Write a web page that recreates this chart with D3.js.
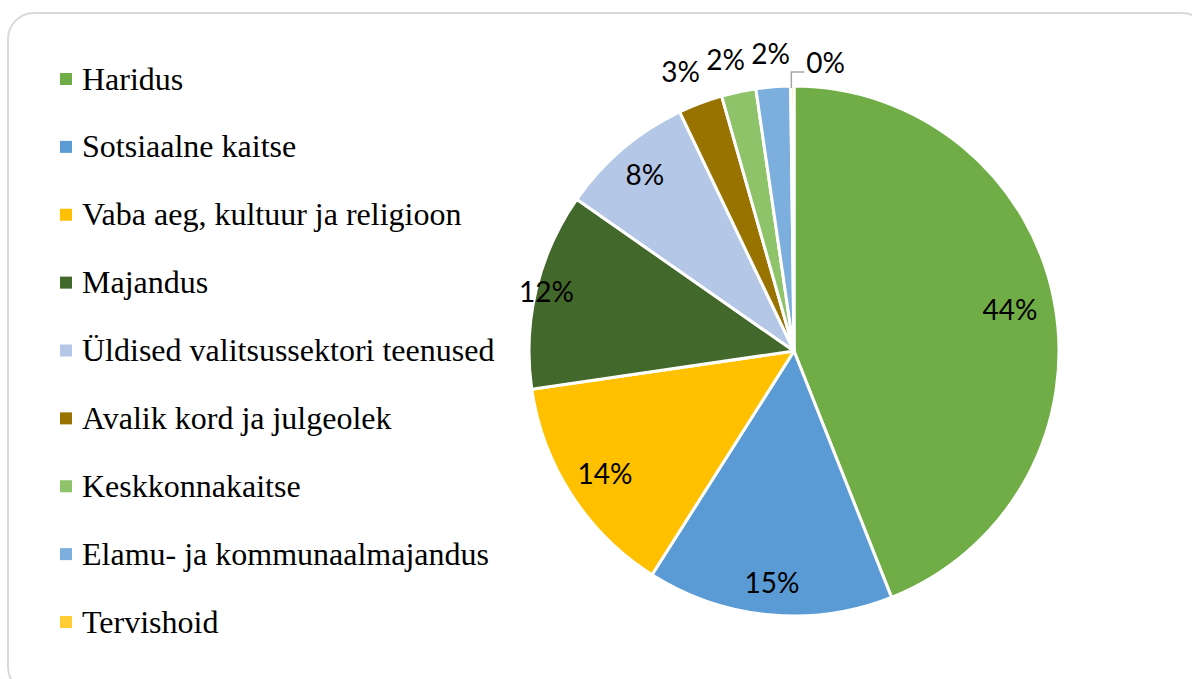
<!DOCTYPE html>
<html>
<head>
<meta charset="utf-8">
<script src="https://cdn.jsdelivr.net/npm/d3@7"></script>
<style>
  body { margin: 0; background: #fff; }
  .legend text { font-family: "Times New Roman", "Liberation Serif", Tinos, serif; font-size: 32px; fill: #000; }
  .lbl { font-family: Lato, "Open Sans", sans-serif; font-size: 28px; fill: #000; }
</style>
</head>
<body>
<script>
// shares of spending (%) in pie order, clockwise from 12 o'clock
var categories = ["Haridus", "Sotsiaalne kaitse", "Vaba aeg, kultuur ja religioon", "Majandus",
                  "Üldised valitsussektori teenused", "Avalik kord ja julgeolek", "Keskkonnakaitse",
                  "Elamu- ja kommunaalmajandus", "Tervishoid"];
var values = [44.0, 15.0, 13.7, 12.0, 8.2, 2.7, 2.1, 2.1, 0.2];
var colors = ["#70ad47", "#5b9bd5", "#ffc000", "#43682b", "#b4c7e7", "#997300", "#8fc36a", "#7cafdd", "#ffcd33"];
// where the inside labels sit, as a fraction of the radius (Excel "best fit")
var labelRadius = [0.83, 0.88, 0.85, 0.96, 0.87];

var width = 1192,
    height = 679,
    cx = 794,
    cy = 351,
    radius = 265;

var svg = d3.select("body").append("svg")
    .attr("width", width)
    .attr("height", height);

// frame
svg.append("rect")
    .attr("x", 8).attr("y", 13)
    .attr("width", 1200).attr("height", 680)
    .attr("rx", 26).attr("ry", 26)
    .attr("fill", "#fff")
    .attr("stroke", "#d9d9d9")
    .attr("stroke-width", 2);

var data = categories.map(function(c, i) { return { name: c, value: values[i], color: colors[i] }; });

var pie = d3.pie().sort(null).value(function(d) { return d.value; });
var arcs = pie(data);

var arc = d3.arc().innerRadius(0).outerRadius(radius);
var outArc = d3.arc().innerRadius(radius + 33).outerRadius(radius + 33);

var g = svg.append("g").attr("transform", "translate(" + cx + "," + cy + ")");

g.selectAll("path.slice")
    .data(arcs)
    .enter().append("path")
    .attr("class", "slice")
    .attr("d", arc)
    .attr("fill", function(d) { return d.data.color; })
    .attr("stroke", "#fff")
    .attr("stroke-width", 3)
    .attr("stroke-linejoin", "round");

function pct(d) { return Math.round(d.data.value) + "%"; }

// labels inside the big slices
g.selectAll("text.in")
    .data(arcs.filter(function(d) { return d.data.value >= 5; }))
    .enter().append("text")
    .attr("class", "lbl")
    .attr("transform", function(d, i) {
        var r = radius * labelRadius[i];
        return "translate(" + d3.arc().innerRadius(r).outerRadius(r).centroid(d) + ")";
    })
    .attr("text-anchor", "middle")
    .attr("dy", "0.36em")
    .text(pct);

// small slices: labels outside, pushed apart so they don't touch
var small = arcs.filter(function(d) { return d.data.value < 5 && d.data.value >= 1; })
    .map(function(d) { var c = outArc.centroid(d); return { d: d, x: c[0], y: c[1] }; });
for (var i = small.length - 2; i >= 0; i--) {
    small[i].x = Math.min(small[i].x, small[i + 1].x - 45);
}
g.selectAll("text.out")
    .data(small)
    .enter().append("text")
    .attr("class", "lbl")
    .attr("x", function(p) { return p.x; })
    .attr("y", function(p) { return p.y; })
    .attr("text-anchor", "middle")
    .attr("dy", "0.36em")
    .text(function(p) { return pct(p.d); });

// tiny slice with leader line
arcs.filter(function(d) { return d.data.value < 1; }).forEach(function(d) {
    var a = (d.startAngle + d.endAngle) / 2;
    var x0 = Math.sin(a) * radius, y0 = -Math.cos(a) * radius;
    var y1 = -radius - 14;
    g.append("path")
        .attr("d", "M" + (x0 - 1) + "," + (y0 + 2) + "V" + y1 + "H" + (x0 + 12))
        .attr("fill", "none")
        .attr("stroke", "#a6a6a6")
        .attr("stroke-width", 1.5);
    g.append("text")
        .attr("class", "lbl")
        .attr("x", x0 + 14)
        .attr("y", y1 - 9)
        .attr("dy", "0.36em")
        .text(pct(d));
});

// legend
var legend = svg.append("g").attr("class", "legend");
var rowY = d3.scalePoint().domain(categories).range([79, 622]);

var item = legend.selectAll("g")
    .data(data)
    .enter().append("g")
    .attr("transform", function(d) { return "translate(60," + rowY(d.name) + ")"; });

item.append("rect")
    .attr("x", 0).attr("y", -6)
    .attr("width", 12).attr("height", 12)
    .attr("fill", function(d) { return d.color; });

item.append("text")
    .attr("x", 22)
    .attr("dy", "0.33em")
    .text(function(d) { return d.name; });
</script>
</body>
</html>
